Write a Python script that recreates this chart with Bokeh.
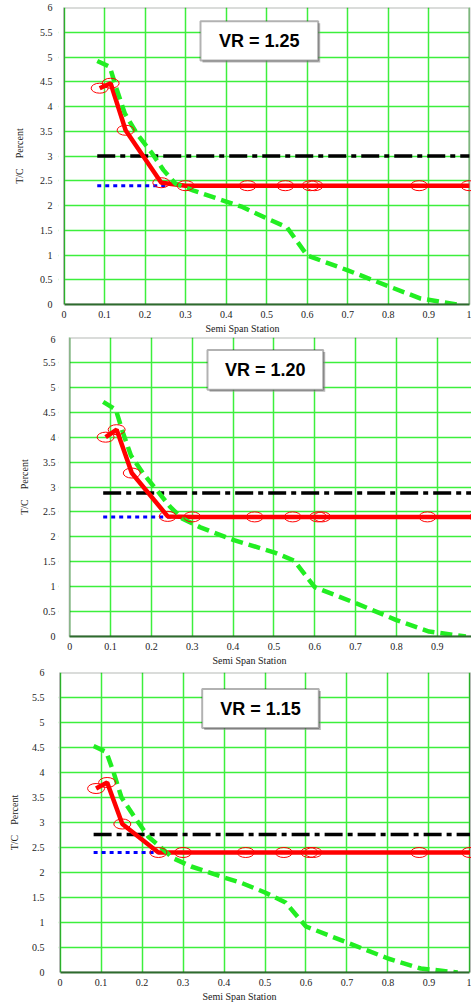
from bokeh.plotting import figure
from bokeh.layouts import column
from bokeh.models import FixedTicker, BoxAnnotation, Label, Title
from bokeh.embed import file_html
from bokeh.resources import INLINE

# ---------------- data ----------------
vr_labels = ["VR = 1.25", "VR = 1.20", "VR = 1.15"]

# red design curve (stations with circle markers)
red_x = [0.088, 0.115, 0.152, 0.240, 0.300, 0.453, 0.546, 0.608, 0.618, 0.876, 1.0]
red_y_125 = [4.37, 4.47, 3.52, 2.46, 2.40, 2.40, 2.40, 2.40, 2.40, 2.40, 2.40]
red_y_120 = [4.00, 4.15, 3.28, 2.41, 2.40, 2.40, 2.40, 2.40, 2.40, 2.40, 2.40]
red_y_115 = [3.68, 3.80, 2.97, 2.40, 2.40, 2.40, 2.40, 2.40, 2.40, 2.40, 2.40]

# green dashed curve
green_x = [0.082, 0.113, 0.130, 0.150, 0.180, 0.215, 0.245, 0.275, 0.320, 0.400,
           0.440, 0.500, 0.550, 0.600, 0.700, 0.800, 0.880, 0.970]
green_y_125 = [4.92, 4.80, 4.35, 3.86, 3.45, 3.08, 2.72, 2.44, 2.30, 2.08,
               1.97, 1.74, 1.56, 0.99, 0.69, 0.37, 0.12, 0.00]
green_y_120 = [4.71, 4.55, 4.10, 3.63, 3.27, 2.92, 2.61, 2.37, 2.19, 1.94,
               1.84, 1.69, 1.52, 0.99, 0.67, 0.33, 0.10, 0.00]
green_y_115 = [4.53, 4.41, 4.02, 3.50, 3.13, 2.72, 2.51, 2.29, 2.12, 1.90,
               1.80, 1.60, 1.40, 0.92, 0.60, 0.28, 0.08, 0.00]

# black dash-dot reference (VR x 2.4) and blue dotted base line
ref_x = [0.082, 1.0]
ref_levels = [3.00, 2.88, 2.76]
base_x = [0.082, 0.250]
base_level = 2.40

x_ticks = [0, 0.1, 0.2, 0.3, 0.4, 0.5, 0.6, 0.7, 0.8, 0.9, 1.0]
x_tick_labels = ["0", "0.1", "0.2", "0.3", "0.4", "0.5", "0.6", "0.7", "0.8", "0.9", "1"]
y_ticks = [0, 0.5, 1, 1.5, 2, 2.5, 3, 3.5, 4, 4.5, 5, 5.5, 6]
y_tick_labels = ["0", "0.5", "1", "1.5", "2", "2.5", "3", "3.5", "4", "4.5", "5", "5.5", "6"]

red_sets = [red_y_125, red_y_120, red_y_115]
green_sets = [green_y_125, green_y_120, green_y_115]

# ---------------- layout (pixels / view) ----------------
FRAME_LEFT = 58
FRAME_W = 413
panels = [
    dict(xs=-0.01357, xe=1.00518, top=7, fh=297, bot=31, tso=6, lso=12, toff=147,
         box=(0.3367, 0.627, 5.72, 4.93), right=True),
    dict(xs=-0.02742, xe=0.98384, top=2, fh=299, bot=32, tso=3, lso=10, toff=154,
         box=(0.3374, 0.6207, 5.75, 4.95), right=False),
    dict(xs=-0.00366, xe=1.00366, top=4, fh=300, bot=33, tso=14, lso=9, toff=144,
         box=(0.3468, 0.6312, 5.67, 4.89), right=True),
]

SERIF = "Liberation Serif"
GRID = "#3cef3c"
FRAME_C = "#0b160b"

figs = []
for i, cfg in enumerate(panels):
    p = figure(frame_width=FRAME_W, frame_height=cfg["fh"],
               x_range=(cfg["xs"], cfg["xe"]), y_range=(0, 6),
               output_backend="svg", toolbar_location=None,
               min_border_left=FRAME_LEFT, min_border_right=0,
               min_border_top=cfg["top"], min_border_bottom=cfg["bot"],
               background_fill_color="white", border_fill_color="white")
    p.outline_line_color = None

    p.xaxis.ticker = FixedTicker(ticks=x_ticks)
    p.yaxis.ticker = FixedTicker(ticks=y_ticks)
    p.xaxis.major_label_overrides = dict(zip(x_ticks, x_tick_labels))
    p.yaxis.major_label_overrides = dict(zip(y_ticks, y_tick_labels))
    for ax in (p.xaxis, p.yaxis):
        ax.major_tick_out = 0
        ax.major_tick_in = 0
        ax.minor_tick_out = 0
        ax.minor_tick_in = 0
        ax.major_label_text_font = SERIF
        ax.major_label_text_font_size = "10px"
        ax.major_label_text_color = "#222222"
    p.xaxis.bounds = (0, 1)
    p.xaxis.axis_line_color = "#2e6b2e"
    p.xaxis.axis_line_width = 2
    p.yaxis.axis_line_color = None
    p.xaxis.major_label_standoff = 6
    p.yaxis.major_label_standoff = cfg["tso"]
    p.yaxis.axis_label = "T/C\u00a0\u00a0\u00a0\u00a0Percent"
    p.yaxis.axis_label_text_font = SERIF
    p.yaxis.axis_label_text_font_size = "10px"
    p.yaxis.axis_label_text_font_style = "normal"
    p.yaxis.axis_label_text_color = "#222222"
    p.yaxis.axis_label_standoff = cfg["lso"]

    p.add_layout(Title(text="Semi Span Station", align="left", offset=cfg["toff"], standoff=0,
                       text_font=SERIF, text_font_size="10px", text_font_style="normal",
                       text_color="#222222"), "below")

    p.xgrid.ticker = FixedTicker(ticks=x_ticks)
    p.ygrid.ticker = FixedTicker(ticks=y_ticks)
    p.xgrid.grid_line_color = GRID
    p.ygrid.grid_line_color = GRID
    p.xgrid.grid_line_width = 1.5
    p.ygrid.grid_line_width = 1.5

    # white masks outside the chart area (x < 0, x > 1) and frame outline
    p.add_layout(BoxAnnotation(right=0, fill_color="white", fill_alpha=1.0, line_color=None,
                               level="underlay"))
    if cfg["right"]:
        p.add_layout(BoxAnnotation(left=1, fill_color="white", fill_alpha=1.0, line_color=None,
                                   level="underlay"))
    p.add_layout(BoxAnnotation(left=0, right=1, bottom=0, top=6, fill_alpha=0.0,
                               line_color=FRAME_C, line_width=2, level="underlay"))

    # series
    p.line(ref_x, [ref_levels[i]] * len(ref_x), line_color="black", line_width=3.5,
           line_dash="18 5 5 5")
    p.line(base_x, [base_level] * len(base_x), line_color="#0000ff", line_width=3,
           line_dash="4 4")
    p.line(red_x, red_sets[i], line_color="#ff0000", line_width=4.5)
    p.line(green_x, green_sets[i], line_color="#22ee22", line_width=4.5, line_dash="12 6")
    p.ellipse(red_x, red_sets[i], width=17, height=10, width_units="screen",
              height_units="screen", fill_color=None, line_color="#ff0000", line_width=1)

    # VR box
    l, r, t, b = cfg["box"]
    p.add_layout(BoxAnnotation(left=l + 0.005, right=r + 0.005, top=t - 0.04, bottom=b - 0.04,
                               fill_color="#888888", fill_alpha=0.6, line_color=None))
    p.add_layout(BoxAnnotation(left=l, right=r, top=t, bottom=b, fill_color="white",
                               fill_alpha=1.0, line_color="black", line_width=2))
    p.add_layout(Label(x=(l + r) / 2, y=(t + b) / 2, text=vr_labels[i], text_align="center",
                       text_baseline="middle", text_font="Liberation Sans",
                       text_font_style="bold", text_font_size="18px", text_color="black"))
    figs.append(p)

layout = column(*figs, spacing=0)
open("out.html", "w").write(file_html(layout, INLINE))
